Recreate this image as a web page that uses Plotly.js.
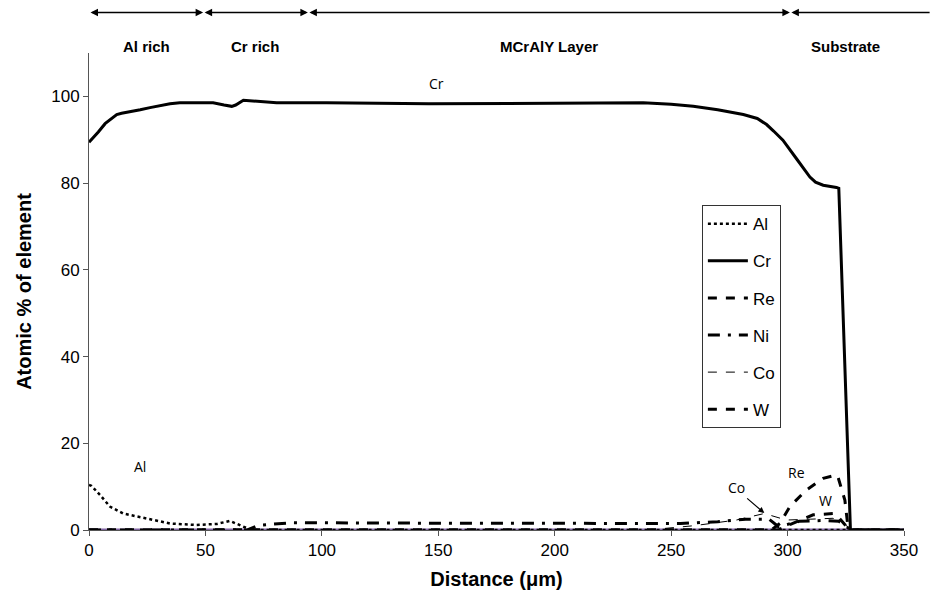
<!DOCTYPE html>
<html><head><meta charset="utf-8">
<script src="https://cdn.plot.ly/plotly-3.0.1.min.js"></script>
<style>body{margin:0;background:#fff}#c{width:936px;height:604px}</style>
</head><body><div id="c"></div>
<script>
// Distances (µm) and atomic % per element
const alX = [0, 1, 4.7, 9, 14.7, 24.8, 34.8, 46, 55, 60.5, 65, 69, 72, 350];
const alY = [10.4, 10.2, 8.1, 5.4, 3.8, 2.7, 1.5, 1.15, 1.4, 2.1, 1.15, 0.15, 0, 0];

const crX = [0, 1.2, 4, 6.9, 9.5, 11.9, 14, 17.6, 22, 26.2, 30.5, 34.8, 39, 53.3, 58, 61.3, 63, 66.3, 80.6, 102, 146, 238, 250, 259.5, 270, 281, 287, 291, 294, 298, 304, 309.6, 312, 315.3, 321, 322, 327, 350];
const crY = [89.4, 90.2, 91.8, 93.7, 94.9, 95.8, 96.1, 96.4, 96.9, 97.4, 97.9, 98.3, 98.5, 98.5, 98.0, 97.7, 98.0, 99.1, 98.5, 98.5, 98.3, 98.5, 98.2, 97.7, 96.9, 95.8, 94.9, 93.5, 92.0, 89.9, 85.5, 81.4, 80.2, 79.5, 79.0, 78.8, 0, 0];

const reX = [0, 293, 296.7, 301, 308, 315.3, 321, 321.5, 324.6, 326, 327, 350];
const reY = [0, 0, 1.5, 5.4, 9.2, 11.9, 12.7, 12.5, 6.9, 0.4, 0, 0];

const niX = [0, 68, 73, 80, 88, 120, 160, 200, 240, 254, 270, 282, 292, 296, 300, 305, 315, 322, 326, 327, 350];
const niY = [0, 0, 1.1, 1.3, 1.7, 1.6, 1.6, 1.6, 1.5, 1.5, 1.9, 2.5, 2.5, 0.8, 1.3, 2.0, 2.2, 2.0, 0.5, 0, 0];

const coX = [0, 240, 260, 278, 290, 299.5, 310, 319.5, 323.7, 327, 350];
const coY = [0, 0, 1.0, 2.3, 3.8, 2.3, 2.5, 2.7, 1.9, 0, 0];

const wX = [0, 296, 299.5, 305.3, 311, 319.6, 321, 325.3, 327, 350];
const wY = [0, 0, 0.9, 2.3, 3.5, 3.8, 3.5, 0.8, 0, 0];

const yX = [0, 350];
const yY = [0, 0];

const xTicks = [0, 50, 100, 150, 200, 250, 300, 350];
const yTicks = [0, 20, 40, 60, 80, 100];

const zones = [
  {label: 'Al rich', from: 0, to: 49},
  {label: 'Cr rich', from: 49, to: 94},
  {label: 'MCrAlY Layer', from: 94, to: 301},
  {label: 'Substrate', from: 301, to: 361}
];

const labels = [
  {text: 'Cr', x: 149.4, y: 103},
  {text: 'Al', x: 22, y: 14.7},
  {text: 'Co', x: 278, y: 9.9},
  {text: 'Re', x: 304, y: 13.2},
  {text: 'W', x: 316.4, y: 6.9}
];

const traces = [
  {x: yX, y: yY, name: 'Y', showlegend: false, line: {color: '#8064A2', width: 3}},
  {x: alX, y: alY, name: 'Al', legendgroup: 'a', line: {color: '#000', width: 2.5, dash: 'dot'}},
  {x: crX, y: crY, name: 'Cr', legendgroup: 'b', line: {color: '#000', width: 3}},
  {x: reX, y: reY, name: 'Re', legendgroup: 'c', line: {color: '#000', width: 3, dash: 'dash'}},
  {x: niX, y: niY, name: 'Ni', legendgroup: 'd', line: {color: '#000', width: 3, dash: '12px,8px,3px,8px'}},
  {x: coX, y: coY, name: 'Co', legendgroup: 'e', line: {color: '#000', width: 1, dash: 'dash'}},
  {x: wX, y: wY, name: 'W', legendgroup: 'f', line: {color: '#000', width: 3, dash: 'dash'}}
].map(t => Object.assign({type: 'scatter', mode: 'lines', hoverinfo: 'skip'}, t));

const ann = [];
zones.forEach(z => {
  ann.push({x: z.to, y: 1.085, xref: 'x', yref: 'paper', ax: z.from, ay: 0, axref: 'x', ayref: 'pixel',
    text: '', showarrow: true, arrowhead: z.label === 'Substrate' ? 0 : 2, startarrowhead: 2,
    arrowside: 'end+start', arrowwidth: 1.5, arrowsize: 1, startarrowsize: 1, arrowcolor: '#000'});
  const mid = z.label === 'Substrate' ? 325 : (z.from + z.to) / 2;
  ann.push({x: mid, y: 1.035, xref: 'x', yref: 'paper', text: '<b>' + z.label + '</b>', showarrow: false,
    font: {family: 'Liberation Sans, Arial', size: 15, color: '#000'}});
});
labels.forEach(l => ann.push({x: l.x, y: l.y, xref: 'x', yref: 'y', text: l.text, showarrow: false,
  font: {family: 'Open Sans, Liberation Sans', size: 14, color: '#000'}}));
ann.push({x: 290, y: 3.9, ax: 282, ay: 7.6, xref: 'x', yref: 'y', axref: 'x', ayref: 'y', text: '', showarrow: true,
  arrowhead: 2, arrowwidth: 1.2, arrowsize: 1, arrowcolor: '#000'});

const layout = {
  width: 936, height: 604,
  margin: {l: 89, r: 32, t: 53, b: 74},
  paper_bgcolor: '#fff', plot_bgcolor: '#fff',
  font: {family: 'Liberation Sans, Arial', color: '#000'},
  showlegend: true,
  legend: {x: 0.752, y: 0.681, xanchor: 'left', yanchor: 'top', bordercolor: '#333', borderwidth: 1,
    bgcolor: '#fff', font: {size: 17, family: 'Liberation Sans, Arial'}, tracegroupgap: 12, itemwidth: 40,
    traceorder: 'grouped'},
  xaxis: {range: [0, 350], tickvals: xTicks, ticks: 'outside', ticklen: 5, tickcolor: '#555', showgrid: false,
    zeroline: false, showline: true, linecolor: '#555', linewidth: 1, tickfont: {size: 17},
    title: {text: '<b>Distance (μm)</b>', font: {size: 20}, standoff: 12}},
  yaxis: {range: [0, 110], tickvals: yTicks, ticks: 'outside', ticklen: 5, tickcolor: '#555', showgrid: false,
    zeroline: false, showline: true, linecolor: '#555', linewidth: 1, tickfont: {size: 17},
    title: {text: '<b>Atomic % of element</b>', font: {size: 20}, standoff: 14}},
  annotations: ann
};

Plotly.newPlot('c', traces, layout, {displayModeBar: false, staticPlot: true});
</script></body></html>
